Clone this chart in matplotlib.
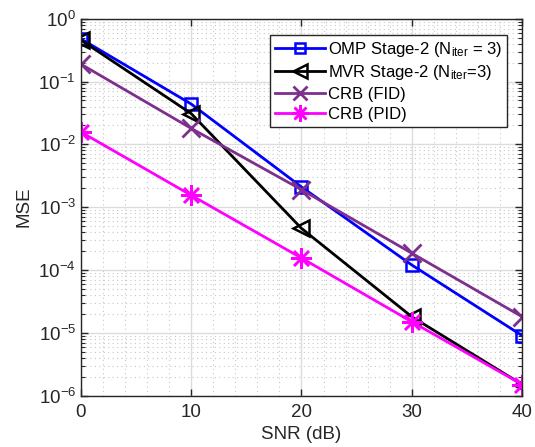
import matplotlib
matplotlib.use('Agg')
import matplotlib.pyplot as plt
import numpy as np

plt.rcParams['font.family'] = ['Liberation Sans', 'DejaVu Sans']
plt.rcParams['mathtext.fontset'] = 'custom'
plt.rcParams['mathtext.rm'] = 'Liberation Sans'
plt.rcParams['mathtext.it'] = 'Liberation Sans'

snr = [0, 10, 20, 30, 40]
mse_omp = [0.48, 0.044, 0.0021, 1.2e-4, 9.0e-6]
mse_mvr = [0.46, 0.031, 4.6e-4, 1.8e-5, 1.5e-6]
crb_fid = [0.19, 0.018, 0.0019, 1.85e-4, 1.8e-5]
crb_pid = [0.0158, 0.00155, 1.55e-4, 1.5e-5, 1.5e-6]

fig = plt.figure(figsize=(5.35, 4.47), dpi=100)
ax = fig.add_axes([0.151, 0.115, 0.825, 0.843])

lw = 2
ax.semilogy(snr, mse_omp, '-s', color='#0000ff', lw=lw, ms=9, mfc='none', mew=1.8,
            label=r'OMP Stage-2 (N$_{\rm iter}$ = 3)')
ax.semilogy(snr, mse_mvr, '-<', color='k', lw=lw, ms=12, mfc='none', mew=1.8,
            label=r'MVR Stage-2 (N$_{\rm iter}$=3)')
ax.semilogy(snr, crb_fid, '-x', color='#7e2f8e', lw=lw, ms=13, mew=2,
            label='CRB (FID)')
ax.semilogy(snr, crb_pid, '-', marker=(8, 2, 0), color='#ff00ff', lw=lw, ms=15, mew=1.8,
            label='CRB (PID)')

ax.set_xlim(0, 40)
ax.set_ylim(1e-6, 1)
ax.set_xticks([0, 10, 20, 30, 40])
ax.set_yticks([10.0**k for k in range(-6, 1)])
ax.grid(True, which='major', color='#dcdcdc', lw=1, ls='-')
ax.grid(True, which='minor', axis='y', color='#c8c8c8', lw=0.8, ls=(0, (1, 3)))
ax.xaxis.set_minor_locator(matplotlib.ticker.MultipleLocator(2))
ax.grid(True, which='minor', axis='x', color='#c8c8c8', lw=0.8, ls=(0, (1, 3)))
ax.set_axisbelow(True)
ax.tick_params(which='both', direction='in', top=True, right=True, labelsize=13.5,
               colors='#262626')
ax.tick_params(which='major', length=5, width=1)
ax.tick_params(which='minor', length=3, width=0.8)
ax.tick_params(axis='x', which='minor', length=0)
ax.tick_params(axis='x', pad=6)
for s in ax.spines.values():
    s.set_color('#262626')
    s.set_linewidth(1)

ax.set_xlabel('SNR (dB)', fontsize=13.5, color='#262626', labelpad=4)
ax.set_ylabel('MSE', fontsize=13.5, color='#262626', labelpad=4)

leg = ax.legend(loc='upper right', bbox_to_anchor=(0.966, 0.958), fontsize=12,
                fancybox=False, framealpha=1, edgecolor='#262626',
                borderpad=0.3, labelspacing=0.28, handlelength=3.0,
                handletextpad=0.15, borderaxespad=0, markerscale=0.8)
leg.get_frame().set_linewidth(1)

fig.savefig('out.png', dpi=100)
